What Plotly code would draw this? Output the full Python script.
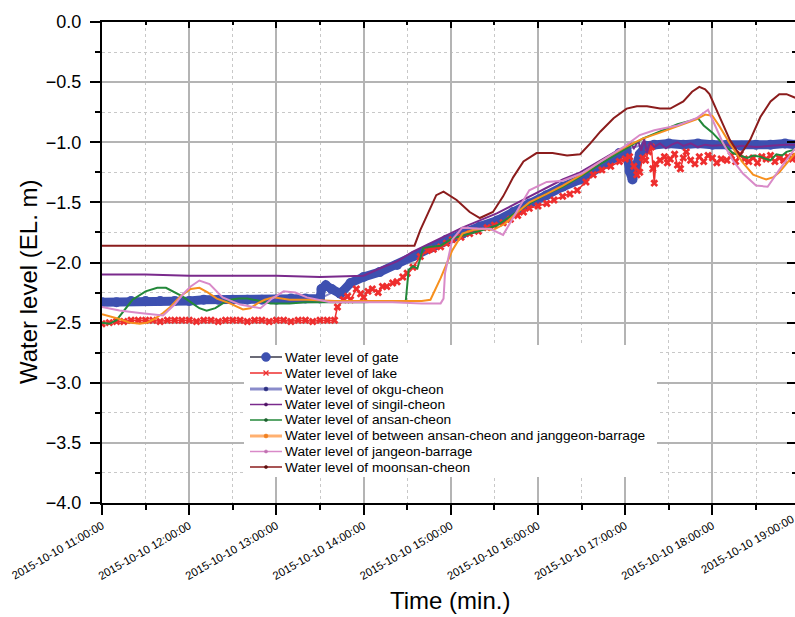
import plotly.graph_objects as go

DATE = "2015-10-10 "

# ---------------- data ----------------
gate_t = ["11:00","11:10","11:20","11:30","11:40","11:50","12:00","12:10","12:20","12:30","12:40","12:50",
          "13:00","13:10","13:20","13:30","13:31","13:34","13:38","13:44","13:51","14:00","14:11","14:23",
          "14:34","14:46","14:57","15:08","15:20","15:32","15:43","15:54","16:06","16:17","16:29","16:43",
          "16:56","17:01","17:03","17:05","17:07","17:10","17:14","17:20","17:30","17:40","17:50","18:00",
          "18:10","18:20","18:30","18:40","18:50","18:57"]
gate_v = [-2.33,-2.33,-2.32,-2.32,-2.32,-2.32,-2.32,-2.31,-2.31,-2.31,-2.31,-2.31,
          -2.31,-2.30,-2.30,-2.30,-2.22,-2.19,-2.22,-2.26,-2.17,-2.12,-2.08,-2.02,
          -1.95,-1.88,-1.81,-1.76,-1.70,-1.65,-1.58,-1.51,-1.44,-1.37,-1.31,-1.20,
          -1.09,-1.07,-1.24,-1.31,-1.22,-1.10,-1.03,-1.02,-1.01,-1.02,-1.01,-1.02,
          -1.02,-1.03,-1.02,-1.02,-1.01,-1.02]

lake_t = ["11:00","11:05","11:10","11:15","11:20","11:25","11:30","11:35","11:40","11:45","11:50","11:55",
          "12:00","12:05","12:10","12:15","12:20","12:25","12:30","12:35","12:40","12:45","12:50","12:55",
          "13:00","13:05","13:10","13:15","13:20","13:25","13:30","13:35","13:40","13:42","13:46","13:49",
          "13:51","13:55","13:58","14:00","14:03","14:06","14:10","14:13","14:16","14:20","14:23","14:27",
          "14:30","14:34","14:39","14:44","14:48","14:53","14:57","15:01","15:07","15:13","15:19","15:25",
          "15:30","15:36","15:41","15:46","15:50","15:54","16:00","16:06","16:11","16:17","16:22","16:27",
          "16:33","16:38","16:44","16:50","16:56","17:00","17:03","17:06","17:08","17:10","17:12","17:14",
          "17:16","17:18","17:19","17:20","17:21","17:24","17:27","17:29","17:31","17:34","17:36","17:38",
          "17:40","17:42","17:45","17:48","17:51","17:54","17:57","18:00","18:03","18:06","18:10","18:13",
          "18:16","18:19","18:22","18:25","18:28","18:31","18:34","18:37","18:40","18:43","18:46","18:49",
          "18:52","18:55","18:57"]
lake_v = [-2.51,-2.50,-2.49,-2.49,-2.48,-2.48,-2.48,-2.48,-2.49,-2.48,-2.48,-2.48,
          -2.48,-2.49,-2.48,-2.48,-2.49,-2.48,-2.48,-2.48,-2.49,-2.48,-2.48,-2.49,
          -2.48,-2.48,-2.49,-2.48,-2.48,-2.49,-2.48,-2.48,-2.48,-2.37,-2.31,-2.28,
          -2.31,-2.22,-2.26,-2.29,-2.24,-2.22,-2.25,-2.20,-2.20,-2.17,-2.16,-2.12,
          -2.09,-2.04,-1.95,-1.90,-1.89,-1.87,-1.84,-1.81,-1.79,-1.76,-1.74,-1.71,
          -1.69,-1.67,-1.64,-1.61,-1.58,-1.55,-1.53,-1.51,-1.48,-1.45,-1.43,-1.40,
          -1.33,-1.27,-1.23,-1.20,-1.16,-1.14,-1.12,-1.20,-1.27,-1.25,-1.13,-1.15,
          -1.08,-1.04,-1.22,-1.34,-1.18,-1.15,-1.12,-1.17,-1.14,-1.10,-1.19,-1.22,
          -1.13,-1.08,-1.15,-1.18,-1.12,-1.16,-1.11,-1.13,-1.17,-1.14,-1.15,-1.11,
          -1.16,-1.10,-1.14,-1.16,-1.13,-1.17,-1.12,-1.14,-1.11,-1.16,-1.13,-1.15,
          -1.12,-1.14,-1.12]

okgu_t = ["11:00","12:00","13:00","13:30","13:40","14:00","14:30","15:00","15:30","16:00","16:30",
          "17:00","17:10","17:30","18:00","18:30","18:57"]
okgu_v = [-2.32,-2.31,-2.30,-2.30,-2.24,-2.12,-1.97,-1.80,-1.65,-1.48,-1.30,
          -1.06,-1.03,-1.02,-1.02,-1.02,-1.02]

singil_t = ["11:00","11:30","12:00","12:30","13:00","13:30","14:00","14:11","14:23","14:34","14:46","14:57",
            "15:08","15:20","15:32","15:43","15:54","16:06","16:17","16:29","16:43","16:56","17:01","17:04",
            "17:06","17:09","17:11","17:13","17:15","17:17","17:20","17:24","17:28","17:32","17:36","17:40",
            "17:45","17:50","17:55","18:00","18:10","18:15","18:20","18:30","18:40","18:50","18:57"]
singil_v = [-2.10,-2.10,-2.11,-2.11,-2.11,-2.12,-2.11,-2.05,-1.99,-1.91,-1.84,-1.77,
            -1.71,-1.65,-1.59,-1.52,-1.45,-1.38,-1.31,-1.25,-1.15,-1.06,-1.04,-1.01,
            -1.05,-0.99,-1.07,-0.97,-1.09,-1.00,-1.04,-1.01,-1.05,-1.02,-1.00,-1.03,
            -1.01,-1.04,-1.02,-1.03,-1.02,-1.04,-1.03,-1.04,-1.03,-1.02,-1.02]

ansan_t = ["11:00","11:05","11:10","11:15","11:21","11:30","11:38","11:44","11:49","11:55","12:01","12:07",
           "12:12","12:18","12:23","12:28","12:34","12:40","12:49","12:56","13:09","13:20","13:40","14:00",
           "14:20","14:29","14:31","14:34","14:37","14:41","14:46","14:53","15:01","15:13","15:22","15:32",
           "15:43","15:54","16:06","16:17","16:30","16:43","17:01","17:12","17:24","17:36","17:45","17:50",
           "17:54","18:00","18:07","18:14","18:19","18:24","18:28","18:33","18:37","18:40","18:44","18:48",
           "18:51","18:57"]
ansan_v = [-2.50,-2.51,-2.48,-2.40,-2.31,-2.24,-2.21,-2.21,-2.24,-2.28,-2.33,-2.38,
           -2.40,-2.38,-2.34,-2.31,-2.30,-2.30,-2.32,-2.34,-2.34,-2.33,-2.33,-2.33,
           -2.32,-2.32,-2.06,-2.03,-2.05,-1.88,-1.87,-1.86,-1.80,-1.76,-1.73,-1.69,
           -1.60,-1.51,-1.43,-1.37,-1.28,-1.18,-1.05,-0.97,-0.91,-0.85,-0.82,-0.80,
           -0.86,-0.92,-1.01,-1.09,-1.11,-1.13,-1.11,-1.12,-1.14,-1.15,-1.10,-1.11,
           -1.08,-1.06]

between_t = ["11:00","11:06","11:12","11:19","11:26","11:31","11:36","11:42","11:47","11:54","12:01","12:07",
             "12:13","12:19","12:28","12:37","12:42","12:47","12:52","12:58","13:09","13:21","13:40","14:00",
             "14:20","14:40","14:46","14:53","15:01","15:08","15:15","15:22","15:29","15:37","15:46","15:54",
             "16:06","16:17","16:30","16:43","17:00","17:12","17:24","17:36","17:49","17:55","18:00","18:05",
             "18:12","18:21","18:28","18:37","18:42","18:46","18:53","18:57"]
between_v = [-2.43,-2.45,-2.47,-2.50,-2.51,-2.50,-2.47,-2.42,-2.37,-2.28,-2.22,-2.21,
             -2.25,-2.30,-2.34,-2.39,-2.38,-2.34,-2.31,-2.29,-2.31,-2.31,-2.32,-2.32,
             -2.32,-2.32,-2.31,-2.13,-1.90,-1.76,-1.73,-1.72,-1.73,-1.68,-1.58,-1.50,
             -1.43,-1.36,-1.27,-1.16,-1.04,-0.97,-0.92,-0.87,-0.81,-0.77,-0.78,-0.87,
             -1.01,-1.17,-1.27,-1.31,-1.29,-1.25,-1.15,-1.09]

jangeon_t = ["11:00","11:12","11:26","11:35","11:42","11:50","11:56","12:01","12:07","12:14","12:23","12:35",
             "12:43","12:49","12:57","13:05","13:13","13:21","13:37","14:00","14:20","14:40","14:53","14:55",
             "14:56","15:01","15:08","15:20","15:27","15:36","15:44","15:54","16:06","16:17","16:30","16:43",
             "17:00","17:10","17:20","17:36","17:49","17:57","18:02","18:07","18:14","18:21","18:30","18:38",
             "18:46","18:53","18:57"]
jangeon_v = [-2.37,-2.40,-2.42,-2.43,-2.44,-2.35,-2.26,-2.20,-2.15,-2.18,-2.29,-2.35,
             -2.37,-2.38,-2.30,-2.24,-2.25,-2.29,-2.33,-2.33,-2.33,-2.34,-2.34,-2.30,
             -2.09,-1.81,-1.71,-1.72,-1.72,-1.77,-1.60,-1.40,-1.33,-1.32,-1.26,-1.16,
             -1.03,-0.94,-0.90,-0.86,-0.80,-0.73,-0.87,-1.00,-1.15,-1.26,-1.36,-1.37,
             -1.23,-1.12,-1.05]

moonsan_t = ["11:00","12:00","13:00","14:00","14:35","14:39","14:46","14:50","14:55","15:04","15:13","15:20",
             "15:29","15:36","15:43","15:50","15:59","16:10","16:20","16:29","16:36","16:43","16:52","17:01",
             "17:08","17:15","17:24","17:31","17:40","17:46","17:51","17:55","17:58","18:05","18:12","18:19",
             "18:26","18:33","18:40","18:46","18:51","18:57"]
moonsan_v = [-1.86,-1.86,-1.86,-1.86,-1.86,-1.73,-1.54,-1.44,-1.41,-1.48,-1.58,-1.63,
             -1.58,-1.45,-1.29,-1.16,-1.09,-1.09,-1.11,-1.10,-1.01,-0.91,-0.80,-0.72,
             -0.70,-0.70,-0.72,-0.72,-0.66,-0.58,-0.54,-0.56,-0.60,-0.79,-0.98,-1.11,
             -0.98,-0.79,-0.66,-0.60,-0.60,-0.63]

series_names = ["Water level of gate", "Water level of lake", "Water level of okgu-cheon",
                "Water level of singil-cheon", "Water level of ansan-cheon",
                "Water level of between ansan-cheon and janggeon-barrage",
                "Water level of jangeon-barrage", "Water level of moonsan-cheon"]

x_tick_times = ["11:00:00","12:00:00","13:00:00","14:00:00","15:00:00","16:00:00","17:00:00","18:00:00"]
x_last_label = "2015-10-10 19:00:00"
y_tick_vals = [0.0,-0.5,-1.0,-1.5,-2.0,-2.5,-3.0,-3.5,-4.0]

FONT = "Liberation Sans, Arial, sans-serif"

# ---------------- styles ----------------
C_GATE = "#3D50B0"
C_LAKE = "#EE2E2E"
C_OKGU = "#8A8CCB"
C_SINGIL = "#7A2A8C"
C_ANSAN = "#23883A"
C_BETW = "#F7901E"
C_JANG = "#D98AC8"
C_MOON = "#8B1C1C"

# plot-area pixel geometry (for placing the hand-drawn legend and titles)
W, H = 795, 617
ML, MR, MT, MB = 102, 0, 22, 114
PW, PH = W - ML - MR, H - MT - MB


def px(xp):
    return (xp - ML) / PW


def py(yp):
    return (H - MB - yp) / PH


def ts(lst):
    return [DATE + t for t in lst]


fig = go.Figure()

fig.add_trace(go.Scatter(x=ts(okgu_t), y=okgu_v, mode="lines", name=series_names[2],
                         line=dict(color=C_OKGU, width=2), hoverinfo="skip"))
fig.add_trace(go.Scatter(x=ts(gate_t), y=gate_v, mode="lines+markers", name=series_names[0],
                         line=dict(color=C_GATE, width=9),
                         marker=dict(color=C_GATE, size=10), hoverinfo="skip"))
fig.add_trace(go.Scatter(x=ts(lake_t), y=lake_v, mode="lines+markers", name=series_names[1],
                         line=dict(color=C_LAKE, width=1.5),
                         marker=dict(color=C_LAKE, size=7, symbol="x"), hoverinfo="skip"))
fig.add_trace(go.Scatter(x=ts(singil_t), y=singil_v, mode="lines", name=series_names[3],
                         line=dict(color=C_SINGIL, width=2), hoverinfo="skip"))
fig.add_trace(go.Scatter(x=ts(ansan_t), y=ansan_v, mode="lines", name=series_names[4],
                         line=dict(color=C_ANSAN, width=2), hoverinfo="skip"))
fig.add_trace(go.Scatter(x=ts(between_t), y=between_v, mode="lines", name=series_names[5],
                         line=dict(color=C_BETW, width=2), hoverinfo="skip"))
fig.add_trace(go.Scatter(x=ts(jangeon_t), y=jangeon_v, mode="lines", name=series_names[6],
                         line=dict(color=C_JANG, width=2), hoverinfo="skip"))
fig.add_trace(go.Scatter(x=ts(moonsan_t), y=moonsan_v, mode="lines", name=series_names[7],
                         line=dict(color=C_MOON, width=2), hoverinfo="skip"))

# helper trace so the mirrored (top/right) axes get drawn
fig.add_trace(go.Scatter(x=[None], y=[None], xaxis="x2", yaxis="y2", showlegend=False, hoverinfo="skip"))

# ---------------- hand-drawn compact legend ----------------
legend_style = [
    # line color, line width, marker kind, marker color, marker radius
    ("#3A3A4A", 1.5, "circle", C_GATE, 4.5),
    (C_LAKE, 1.5, "x", C_LAKE, 2.5),
    (C_OKGU, 3, "circle", "#2B2F80", 2),
    (C_SINGIL, 1.5, "circle", "#4A1060", 1.6),
    (C_ANSAN, 1.5, "circle", "#1D5E2E", 1.6),
    ("#FFB070", 3, "circle", "#F08020", 2),
    (C_JANG, 1.5, "circle", "#C070B0", 1.6),
    (C_MOON, 1.5, "circle", "#5E0E0E", 1.6),
]
row_y = [357, 373, 389, 404.5, 420, 436, 451.5, 467]

shapes = [dict(type="rect", xref="paper", yref="paper", x0=px(244), x1=px(657), y0=py(345), y1=py(477),
               fillcolor="white", line=dict(width=0), layer="above")]
annotations = []
for name, (lc, lw, mk, mc, r), yy in zip(series_names, legend_style, row_y):
    shapes.append(dict(type="line", xref="paper", yref="paper", x0=px(250), x1=px(282),
                       y0=py(yy), y1=py(yy), line=dict(color=lc, width=lw), layer="above"))
    if mk == "circle":
        shapes.append(dict(type="circle", xref="paper", yref="paper",
                           xsizemode="pixel", ysizemode="pixel",
                           xanchor=px(266), yanchor=py(yy), x0=-r, x1=r, y0=-r, y1=r,
                           fillcolor=mc, line=dict(color=mc, width=0.5), layer="above"))
    else:
        for sgn in (1, -1):
            shapes.append(dict(type="line", xref="paper", yref="paper",
                               xsizemode="pixel", ysizemode="pixel",
                               xanchor=px(266), yanchor=py(yy), x0=-r, x1=r, y0=-r * sgn, y1=r * sgn,
                               line=dict(color=mc, width=1.2), layer="above"))
    annotations.append(dict(text=name, xref="paper", yref="paper", x=px(283), y=py(yy),
                            xanchor="left", yanchor="middle", showarrow=False,
                            font=dict(size=13.7, family=FONT, color="black")))

# axis titles and the clipped last tick label
annotations.append(dict(text="Water level (EL. m)", xref="paper", yref="paper", x=px(28), y=py(282),
                        xanchor="center", yanchor="middle", textangle=-90, showarrow=False,
                        font=dict(size=24, family=FONT, color="black")))
annotations.append(dict(text="Time (min.)", xref="paper", yref="paper", x=px(450), y=py(600),
                        xanchor="center", yanchor="middle", showarrow=False,
                        font=dict(size=24, family=FONT, color="black")))
annotations.append(dict(text=x_last_label, xref="paper", yref="paper", x=px(799), y=py(510),
                        xanchor="right", yanchor="top", textangle=-30, showarrow=False,
                        font=dict(size=11.3, family=FONT, color="black")))

xr = [DATE + "11:00:00", DATE + "18:56:50"]

fig.update_layout(
    width=W, height=H,
    margin=dict(l=ML, r=MR, t=MT, b=MB),
    paper_bgcolor="white", plot_bgcolor="white",
    font=dict(family=FONT, color="black"),
    showlegend=False,
    xaxis=dict(type="date", range=xr,
               tickvals=[DATE + t for t in x_tick_times],
               ticktext=[DATE + t for t in x_tick_times],
               tickangle=-30, tickfont=dict(size=11.3, family=FONT),
               ticks="outside", ticklen=10, tickwidth=1.5, tickcolor="black",
               showline=True, linecolor="black", linewidth=2,
               showgrid=True, gridcolor="#B4B4B4", gridwidth=1.5,
               zeroline=False,
               minor=dict(dtick=1800000, tick0=DATE + "11:00:00", ticks="outside", ticklen=5,
                          tickwidth=1.5, tickcolor="black",
                          showgrid=True, gridcolor="#C8C8C8", griddash="dot", gridwidth=1)),
    yaxis=dict(range=[-4.0, 0.0], tickvals=y_tick_vals, tickformat=".1f",
               tickfont=dict(size=18, family=FONT), ticklabelstandoff=5,
               ticks="outside", ticklen=10, tickwidth=1.5, tickcolor="black",
               showline=True, linecolor="black", linewidth=2,
               showgrid=True, gridcolor="#B4B4B4", gridwidth=1.5, zeroline=False,
               minor=dict(dtick=0.25, tick0=0, ticks="outside", ticklen=5, tickwidth=1.5, tickcolor="black",
                          showgrid=True, gridcolor="#C8C8C8", griddash="dot", gridwidth=1)),
    xaxis2=dict(type="date", range=xr, overlaying="x", side="top", matches="x",
                showticklabels=False, ticks="inside", ticklen=6, tickwidth=1.5, tickcolor="black",
                dtick=3600000, tick0=DATE + "11:00:00",
                showline=True, linecolor="black", linewidth=2, showgrid=False, zeroline=False,
                minor=dict(dtick=1800000, tick0=DATE + "11:00:00", ticks="inside", ticklen=3,
                           tickwidth=1.5, tickcolor="black", showgrid=False)),
    yaxis2=dict(range=[-4.0, 0.0], overlaying="y", side="right", showticklabels=False,
                tickvals=y_tick_vals, ticks="inside", ticklen=8, tickwidth=2, tickcolor="black",
                showline=False, showgrid=False, zeroline=False,
                minor=dict(dtick=0.25, tick0=0, ticks="inside", ticklen=3, tickwidth=2,
                           tickcolor="black", showgrid=False)),
    shapes=shapes,
    annotations=annotations,
)

fig.write_html("out.html")
